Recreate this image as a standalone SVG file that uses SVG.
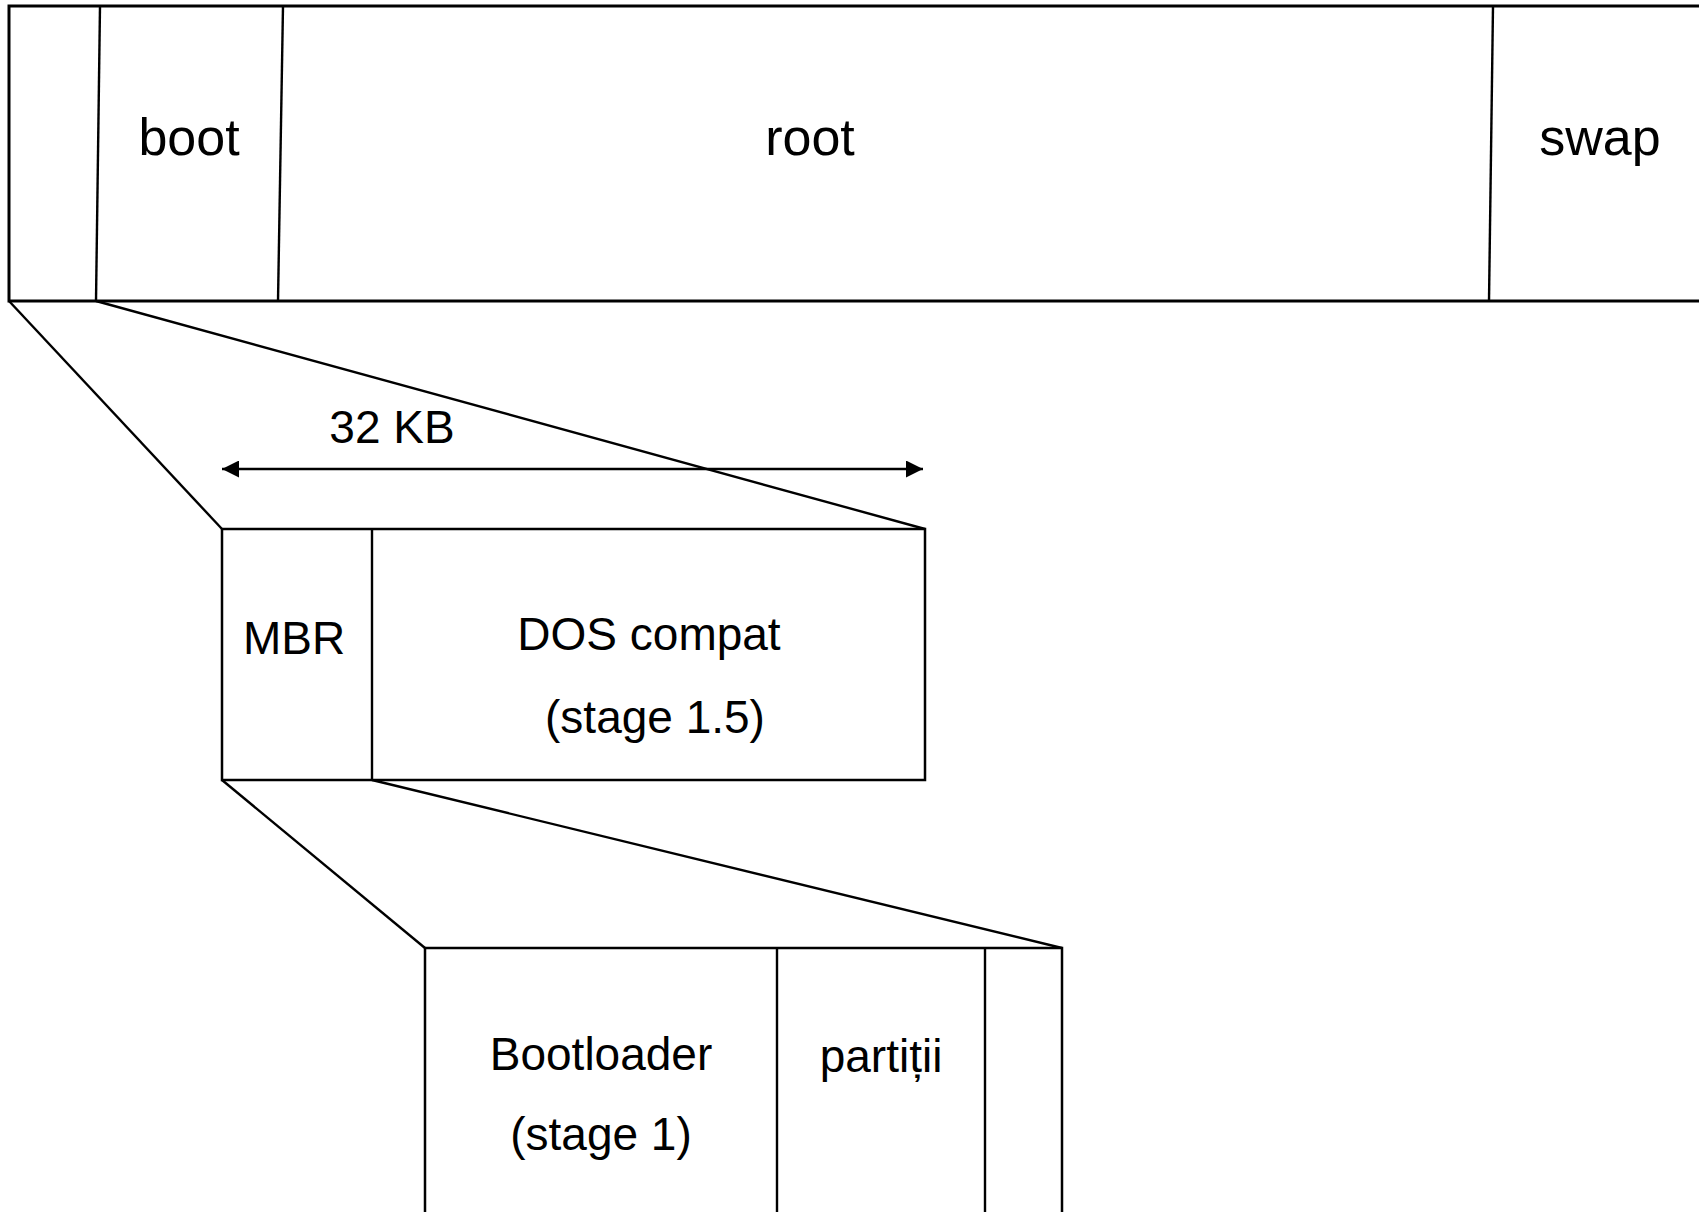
<svg xmlns="http://www.w3.org/2000/svg" width="1699" height="1212" viewBox="0 0 1699 1212">
  <style>
    .box { fill: #ffffff; stroke: #000000; stroke-width: 3; }
    .box2 { fill: #ffffff; stroke: #000000; stroke-width: 2.5; }
    .div { fill: none; stroke: #000000; stroke-width: 2.4; }
    .link { fill: none; stroke: #000000; stroke-width: 2.4; }
    .big { font-family: "Liberation Sans", Arial, sans-serif; font-size: 52px; fill: #000000; text-anchor: middle; }
    .lbl { font-family: "Liberation Sans", Arial, sans-serif; font-size: 46px; fill: #000000; text-anchor: middle; }
  </style>
  <defs>
    <marker id="head" viewBox="0 0 17 17" refX="17" refY="8.5" markerWidth="17" markerHeight="17" markerUnits="userSpaceOnUse" orient="auto-start-reverse">
      <path d="M0,0 L17,8.5 L0,17 Z" fill="#000000"/>
    </marker>
  </defs>
  <rect width="1699" height="1212" fill="#ffffff"/>

  <!-- disk: partition strip -->
  <g id="disk">
    <rect class="box" x="9" y="6" width="1710" height="295"/>
    <line class="div" x1="100" y1="6" x2="96" y2="301"/>
    <line class="div" x1="283" y1="6" x2="278" y2="301"/>
    <line class="div" x1="1493" y1="6" x2="1489" y2="301"/>
  </g>
  <g id="boot"><text class="big" x="189" y="155">boot</text></g>
  <g id="root"><text class="big" x="810" y="155">root</text></g>
  <g id="swap"><text class="big" x="1600" y="155">swap</text></g>

  <!-- first 32 KB of the disk -->
  <g id="head-area">
    <rect class="box2" x="222" y="529" width="703" height="251"/>
    <line class="div" x1="372" y1="529" x2="372" y2="780"/>
  </g>
  <g id="mbr"><text class="lbl" x="294" y="654">MBR</text></g>
  <g id="dos-compat">
    <text class="lbl" x="649" y="650">DOS compat</text>
    <text class="lbl" x="655" y="733">(stage 1.5)</text>
  </g>
  <g id="size-label"><text class="lbl" x="392" y="443">32 KB</text></g>

  <!-- MBR layout -->
  <g id="mbr-detail">
    <rect class="box2" x="425" y="948" width="637" height="300"/>
    <line class="div" x1="777" y1="948" x2="777" y2="1212"/>
    <line class="div" x1="985" y1="948" x2="985" y2="1212"/>
  </g>
  <g id="bootloader">
    <text class="lbl" x="601" y="1070">Bootloader</text>
    <text class="lbl" x="601" y="1150">(stage 1)</text>
  </g>
  <g id="partitii"><text class="lbl" x="881" y="1072">partiții</text></g>

  <!-- connectors -->
  <g id="connectors">
    <line class="link" x1="9" y1="301" x2="222" y2="529"/>
    <line class="link" x1="96" y1="301" x2="925" y2="529"/>
    <line class="link" x1="222" y1="780" x2="425" y2="948"/>
    <line class="link" x1="372" y1="780" x2="1062" y2="948"/>
    <line class="link" x1="222" y1="469" x2="923" y2="469" stroke-width="3" marker-start="url(#head)" marker-end="url(#head)"/>
  </g>
</svg>
